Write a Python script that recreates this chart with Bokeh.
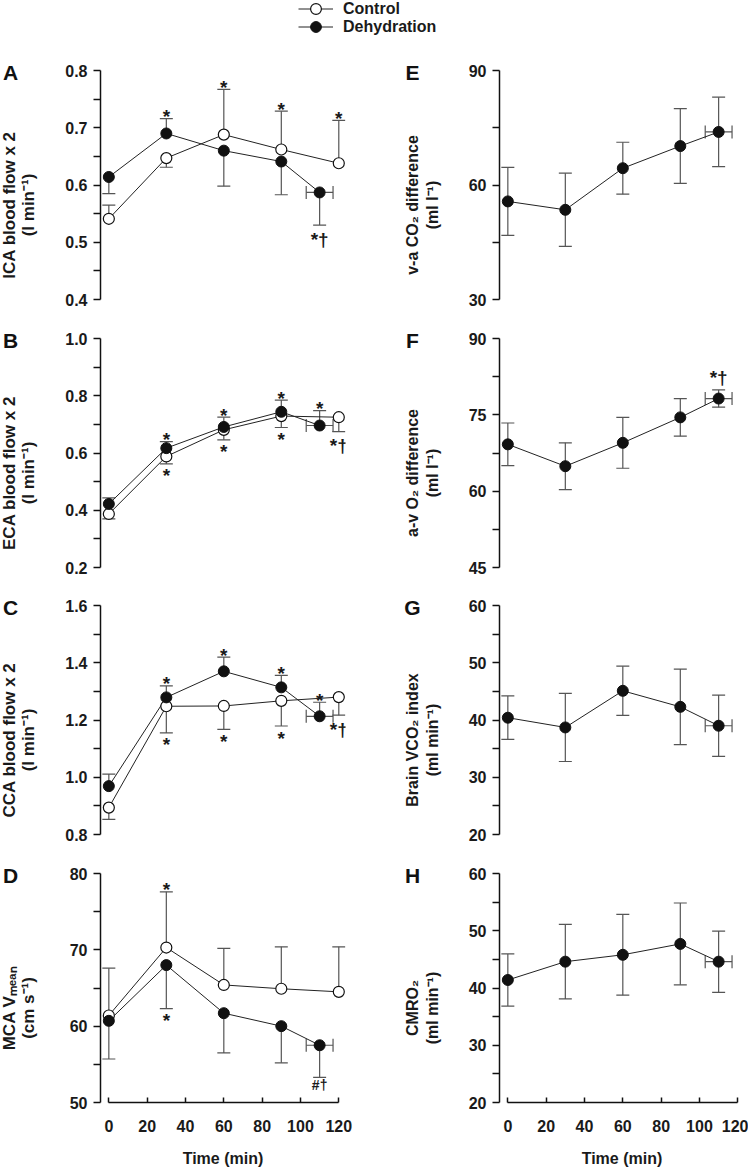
import math
from bokeh.plotting import figure
from bokeh.models import (LinearAxis, FixedTicker, Range1d, Legend,
                          LegendItem, PrintfTickFormatter)
from bokeh.layouts import column, row
from bokeh.embed import file_html
from bokeh.resources import INLINE
from bokeh.core.properties import value

FONT = "Liberation Sans"
ERR = "#555555"
INK = "#1a1a1a"

# ---------------- data ----------------
time_ctrl = [0, 30, 60, 90, 120]
time_dehy = [0, 30, 60, 90, 110]
time_dehy_sd = [0, 0, 0, 0, 7]

# A: ICA blood flow x 2 (l/min)
ica_ctrl = [0.541, 0.647, 0.688, 0.662, 0.638]
ica_ctrl_sd = [0.024, 0.016, 0.079, 0.067, 0.075]
ica_ctrl_dir = [1, -1, 1, 1, 1]
ica_dehy = [0.614, 0.690, 0.660, 0.641, 0.587]
ica_dehy_sd = [0.029, 0.026, 0.062, 0.058, 0.057]
ica_dehy_dir = [-1, 1, -1, -1, -1]
ica_marks = [("dehy", 1, "*"), ("ctrl", 2, "*"), ("ctrl", 3, "*"),
             ("ctrl", 4, "*"), ("dehy", 4, "*†")]

# B: ECA blood flow x 2 (l/min)
eca_ctrl = [0.387, 0.588, 0.681, 0.729, 0.725]
eca_ctrl_sd = [0.017, 0.026, 0.035, 0.040, 0.050]
eca_ctrl_dir = [-1, -1, -1, -1, -1]
eca_dehy = [0.422, 0.617, 0.691, 0.744, 0.696]
eca_dehy_sd = [0.021, 0.023, 0.034, 0.041, 0.052]
eca_dehy_dir = [1, 1, 1, 1, 1]
eca_marks = [("dehy", 1, "*"), ("ctrl", 1, "*"), ("dehy", 2, "*"), ("ctrl", 2, "*"),
             ("dehy", 3, "*"), ("ctrl", 3, "*"), ("dehy", 4, "*"), ("ctrl", 4, "*†")]

# C: CCA blood flow x 2 (l/min)
cca_ctrl = [0.894, 1.248, 1.249, 1.267, 1.280]
cca_ctrl_sd = [0.041, 0.093, 0.082, 0.088, 0.063]
cca_ctrl_dir = [-1, -1, -1, -1, -1]
cca_dehy = [0.969, 1.279, 1.370, 1.314, 1.213]
cca_dehy_sd = [0.042, 0.040, 0.050, 0.042, 0.049]
cca_dehy_dir = [1, 1, 1, 1, 1]
cca_marks = [("dehy", 1, "*"), ("ctrl", 1, "*"), ("dehy", 2, "*"), ("ctrl", 2, "*"),
             ("dehy", 3, "*"), ("ctrl", 3, "*"), ("dehy", 4, "*"), ("ctrl", 4, "*†")]

# D: MCA Vmean (cm/s)
mca_ctrl = [61.4, 70.3, 65.4, 64.9, 64.5]
mca_ctrl_sd = [6.2, 7.3, 4.8, 5.5, 5.9]
mca_ctrl_dir = [1, 1, 1, 1, 1]
mca_dehy = [60.7, 68.0, 61.7, 60.0, 57.5]
mca_dehy_sd = [5.0, 5.7, 5.2, 4.8, 4.2]
mca_dehy_dir = [-1, -1, -1, -1, -1]
mca_marks = [("ctrl", 1, "*"), ("dehy", 1, "*"), ("dehy", 4, "#†")]

# E: v-a CO2 difference (ml/l)
vaco2 = [55.7, 53.5, 64.4, 70.2, 73.9]
vaco2_sd = [8.9, 9.6, 6.8, 9.8, 9.1]
vaco2_marks = []

# F: a-v O2 difference (ml/l)
avo2 = [69.2, 64.9, 69.5, 74.5, 78.2]
avo2_sd = [4.2, 4.6, 5.0, 3.7, 1.7]
avo2_marks = [("dehy", 4, "*†")]

# G: Brain VCO2 index (ml/min)
vco2 = [40.4, 38.7, 45.1, 42.3, 39.0]
vco2_sd = [3.8, 5.95, 4.3, 6.6, 5.35]
vco2_marks = []

# H: CMRO2 (ml/min)
cmro2 = [41.4, 44.6, 45.8, 47.7, 44.6]
cmro2_sd = [4.55, 6.5, 7.05, 7.15, 5.35]
cmro2_marks = []

time_ticks = [0, 20, 40, 60, 80, 100, 120]

# ---------------- geometry ----------------
FW, FH = 245, 229
XS, XE = -4.35, 123.5
ROW_H = [268, 267, 268, 317]
TOP = 20                  # headroom above the top tick (part of the frame)
LAB_W = [54, 80]          # label strip widths (left / right column)
COL_X = [0, 375]          # page x of label strip
PAN_BL = [46, 44]         # panel left border
PAN_BR = [30, 4]          # panel right border
LETTER_X = [10, 412]
LINE_X = [(9, 28), (412, 432)]
LAB_FS = ["17px", "16px"]


def base_fig(**kw):
    return figure(x_axis_type=None, y_axis_type=None, toolbar_location=None,
                  output_backend="svg", title_location=None, **kw)


def make_fig(col, r, yr, major, minor, fmt):
    last = r == 3
    ymin, ymax = yr
    upp = (ymax - ymin) / FH
    p = base_fig(frame_width=FW, frame_height=FH + TOP,
                 x_range=Range1d(XS, XE), y_range=Range1d(ymin, ymax + TOP * upp),
                 min_border_left=PAN_BL[col], min_border_right=PAN_BR[col],
                 min_border_top=0, min_border_bottom=ROW_H[r] - TOP - FH)
    p.outline_line_color = None
    ya = LinearAxis(ticker=FixedTicker(ticks=major, minor_ticks=minor),
                    formatter=PrintfTickFormatter(format=fmt),
                    bounds=yr,
                    major_tick_out=7, major_tick_in=0,
                    minor_tick_out=7, minor_tick_in=0,
                    axis_line_width=1.5, major_tick_line_width=1.5,
                    minor_tick_line_width=1.5,
                    axis_line_color="#111111", major_tick_line_color="#111111",
                    minor_tick_line_color="#111111",
                    major_label_text_font=FONT,
                    major_label_text_font_style="bold",
                    major_label_text_font_size="16px",
                    major_label_text_color=INK,
                    major_label_standoff=6)
    p.add_layout(ya, "left")
    if last:
        xa = LinearAxis(ticker=FixedTicker(ticks=time_ticks, minor_ticks=[]),
                        bounds=(0, 120),
                        major_tick_in=5, major_tick_out=0,
                        axis_line_width=1.5, major_tick_line_width=1.5,
                        axis_line_color="#111111", major_tick_line_color="#111111",
                        major_label_text_font=FONT,
                        major_label_text_font_style="bold",
                        major_label_text_font_size="16px",
                        major_label_text_color=INK,
                        major_label_standoff=17,
                        axis_label="Time (min)",
                        axis_label_text_font=FONT,
                        axis_label_text_font_style="bold",
                        axis_label_text_font_size="16px",
                        axis_label_text_color=INK,
                        axis_label_standoff=15)
        p.add_layout(xa, "below")
    return p


def label_strip(col, r, letter, lines):
    w, fh = LAB_W[col], TOP + FH
    f = base_fig(frame_width=w, frame_height=fh, x_range=Range1d(0, w),
                 y_range=Range1d(0, fh), min_border_left=0, min_border_right=0,
                 min_border_top=0, min_border_bottom=ROW_H[r] - TOP - FH)
    f.outline_line_color = None
    x0 = COL_X[col]
    f.text(x=[LETTER_X[col] - x0], y=[fh - (TOP + 2)], text=[letter],
           text_align="center", text_baseline="middle",
           text_font=value(FONT), text_font_style="bold",
           text_font_size="21px", text_color="#111111")
    yc = fh - (TOP + FH / 2 + 20)
    f.text(x=[LINE_X[col][0] - x0, LINE_X[col][1] - x0], y=[yc, yc],
           text=list(lines), angle=math.pi / 2,
           text_align="center", text_baseline="middle",
           text_font=value(FONT), text_font_style="bold",
           text_font_size=LAB_FS[col], text_color=INK)
    return f


def draw_errors(p, t, v, sd, dirs, tsd):
    lo, hi, cx, cy = [], [], [], []
    for ti, vi, si, di in zip(t, v, sd, dirs):
        lo.append(vi - si if di <= 0 else vi)
        hi.append(vi + si if di >= 0 else vi)
        if di >= 0:
            cx.append(ti); cy.append(vi + si)
        if di <= 0:
            cx.append(ti); cy.append(vi - si)
    p.segment(x0=t, y0=lo, x1=t, y1=hi, line_color=ERR, line_width=1.2)
    p.scatter(x=cx, y=cy, marker="dash", size=13, line_color=ERR, line_width=1.2)
    hx0 = [ti - s for ti, s in zip(t, tsd) if s > 0]
    hx1 = [ti + s for ti, s in zip(t, tsd) if s > 0]
    hy = [vi for vi, s in zip(v, tsd) if s > 0]
    p.segment(x0=hx0, y0=hy, x1=hx1, y1=hy, line_color=ERR, line_width=1.2)
    p.scatter(x=hx0 + hx1, y=hy + hy, marker="dash", angle=math.pi / 2, size=13,
              line_color=ERR, line_width=1.2)


def draw_marks(p, marks, series):
    for key, i, txt in marks:
        t, v, sd, dirs = series[key]
        up = dirs[i] > 0
        y = v[i] + sd[i] if up else v[i] - sd[i]
        if txt.startswith("#"):
            fs, off = "14px", 8
        elif "†" in txt:
            fs, off = "19px", (-12 if up else 14)
        else:
            fs, off = "19px", (-2 if up else 12)
        p.text(x=[t[i]], y=[y], text=[txt], y_offset=off,
               text_align="center", text_baseline="middle",
               text_font=value(FONT), text_font_style="bold",
               text_font_size=fs, text_color=INK)


def two_group_panel(r, yr, major, minor, fmt, letter, lines,
                    c, csd, cdir, d, dsd, ddir, marks):
    p = make_fig(0, r, yr, major, minor, fmt)
    draw_errors(p, time_ctrl, c, csd, cdir, [0] * len(c))
    draw_errors(p, time_dehy, d, dsd, ddir, time_dehy_sd)
    p.line(time_ctrl, c, line_color="#222222", line_width=1)
    p.line(time_dehy, d, line_color="#222222", line_width=1)
    p.scatter(time_ctrl, c, marker="circle", size=11, fill_color="white",
              line_color="#111111", line_width=1.2)
    p.scatter(time_dehy, d, marker="circle", size=11, fill_color="#111111",
              line_color="#111111", line_width=1)
    draw_marks(p, marks, {"ctrl": (time_ctrl, c, csd, cdir),
                          "dehy": (time_dehy, d, dsd, ddir)})
    return row(label_strip(0, r, letter, lines), p)


def one_group_panel(r, yr, major, minor, fmt, letter, lines, d, dsd, marks):
    p = make_fig(1, r, yr, major, minor, fmt)
    draw_errors(p, time_dehy, d, dsd, [0] * len(d), time_dehy_sd)
    p.line(time_dehy, d, line_color="#222222", line_width=1)
    p.scatter(time_dehy, d, marker="circle", size=11, fill_color="#111111",
              line_color="#111111", line_width=1)
    draw_marks(p, marks, {"dehy": (time_dehy, d, dsd, [1] * len(d))})
    return row(label_strip(1, r, letter, lines), p)


pA = two_group_panel(0, (0.4, 0.8), [0.4, 0.5, 0.6, 0.7, 0.8],
                     [0.45, 0.55, 0.65, 0.75], "%.1f", "A",
                     ("ICA blood flow x 2", "(l min\u207b\u00b9)"),
                     ica_ctrl, ica_ctrl_sd, ica_ctrl_dir,
                     ica_dehy, ica_dehy_sd, ica_dehy_dir, ica_marks)
pB = two_group_panel(1, (0.2, 1.0), [0.2, 0.4, 0.6, 0.8, 1.0],
                     [0.3, 0.5, 0.7, 0.9], "%.1f", "B",
                     ("ECA blood flow x 2", "(l min\u207b\u00b9)"),
                     eca_ctrl, eca_ctrl_sd, eca_ctrl_dir,
                     eca_dehy, eca_dehy_sd, eca_dehy_dir, eca_marks)
pC = two_group_panel(2, (0.8, 1.6), [0.8, 1.0, 1.2, 1.4, 1.6],
                     [0.9, 1.1, 1.3, 1.5], "%.1f", "C",
                     ("CCA blood flow x 2", "(l min\u207b\u00b9)"),
                     cca_ctrl, cca_ctrl_sd, cca_ctrl_dir,
                     cca_dehy, cca_dehy_sd, cca_dehy_dir, cca_marks)
pD = two_group_panel(3, (50, 80), [50, 60, 70, 80], [55, 65, 75], "%d", "D",
                     ("MCA V\u2098\u2091\u2090\u2099", "(cm s\u207b\u00b9)"),
                     mca_ctrl, mca_ctrl_sd, mca_ctrl_dir,
                     mca_dehy, mca_dehy_sd, mca_dehy_dir, mca_marks)

pE = one_group_panel(0, (30, 90), [30, 60, 90], [45, 75], "%d", "E",
                     ("v-a CO\u2082 difference", "(ml l\u207b\u00b9)"),
                     vaco2, vaco2_sd, vaco2_marks)
pF = one_group_panel(1, (45, 90), [45, 60, 75, 90], [52.5, 67.5, 82.5], "%d", "F",
                     ("a-v O\u2082 difference", "(ml l\u207b\u00b9)"),
                     avo2, avo2_sd, avo2_marks)
pG = one_group_panel(2, (20, 60), [20, 30, 40, 50, 60], [25, 35, 45, 55], "%d", "G",
                     ("Brain VCO\u2082 index", "(ml min\u207b\u00b9)"),
                     vco2, vco2_sd, vco2_marks)
pH = one_group_panel(3, (20, 60), [20, 30, 40, 50, 60], [25, 35, 45, 55], "%d", "H",
                     ("CMRO\u2082", "(ml min\u207b\u00b9)"),
                     cmro2, cmro2_sd, cmro2_marks)

# ---------------- legend strip ----------------
TOTAL_W = LAB_W[0] + PAN_BL[0] + FW + PAN_BR[0] + LAB_W[1] + PAN_BL[1] + FW + PAN_BR[1]
lf = base_fig(frame_width=TOTAL_W, frame_height=50, x_range=Range1d(0, 1),
              y_range=Range1d(0, 1), min_border=0)
lf.outline_line_color = None
# legend keys: one point each, kept outside the visible range
rc_l = lf.line(x=[-5], y=[-5], line_color="#222222", line_width=1)
rc_m = lf.scatter(x=[-5], y=[-5], marker="circle", size=11, fill_color="white",
                  line_color="#111111", line_width=1.2)
rd_l = lf.line(x=[-5], y=[-5], line_color="#222222", line_width=1)
rd_m = lf.scatter(x=[-5], y=[-5], marker="circle", size=11, fill_color="#111111",
                  line_color="#111111")
leg_style = dict(glyph_width=35, glyph_height=27, label_height=16,
                 label_standoff=10, padding=0, margin=0,
                 border_line_color=None, background_fill_alpha=0,
                 label_text_font=FONT, label_text_font_style="bold",
                 label_text_font_size="16px", label_text_color=INK)
lf.add_layout(Legend(items=[LegendItem(label="Control", renderers=[rc_l, rc_m])],
                     location=(298, 28), **leg_style))
lf.add_layout(Legend(items=[LegendItem(label="Dehydration", renderers=[rd_l, rd_m])],
                     location=(298, 10), **leg_style))

layout = column(lf, row(pA, pE), row(pB, pF), row(pC, pG), row(pD, pH))

open("out.html", "w").write(file_html(layout, INLINE))
